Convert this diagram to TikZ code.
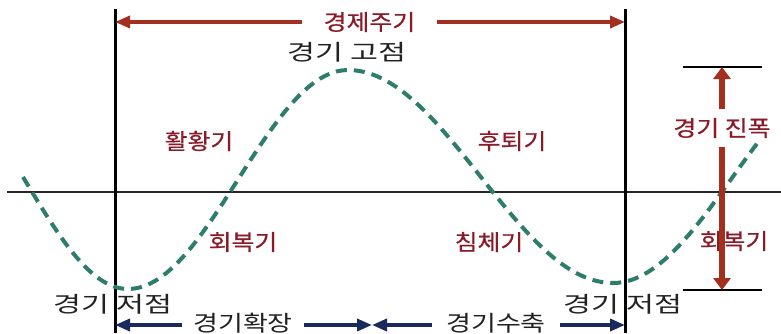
\documentclass[tikz,border=0pt]{standalone}
\usepackage{fontspec}
\setmainfont[FakeStretch=1.15]{Noto Sans CJK KR}
\newfontfamily\ptfont[FakeStretch=1.38]{Noto Sans CJK KR}
\newfontfamily\redfont[FakeStretch=1.13,FakeBold=0.6]{Noto Sans CJK KR}
\newfontfamily\btmfont[FakeStretch=1.23]{Noto Sans CJK KR}
\usetikzlibrary{arrows.meta}
\definecolor{labred}{HTML}{8A1C2A}
\definecolor{arrred}{HTML}{A3301F}
\definecolor{navy}{HTML}{1B2A5C}
\definecolor{teal2}{HTML}{2E7D6C}
\definecolor{txt}{HTML}{222222}
\begin{document}
\begin{tikzpicture}[x=1pt,y=-1pt,
  lbl/.style={font=\ptfont\fontsize{22}{22}\selectfont, inner sep=0pt, text=txt},
  blbl/.style={font=\btmfont\fontsize{22}{22}\selectfont, inner sep=0pt, text=txt},
  rlbl/.style={font=\redfont\fontsize{22}{22}\selectfont, inner sep=0pt, text=labred},
  redarr/.style={draw=arrred, line width=3.5pt, -{Triangle[length=15pt,width=12pt]}},
  navyarr/.style={draw=navy, line width=3.5pt, -{Triangle[length=15pt,width=12pt]}},
  amparr/.style={draw=arrred, line width=6pt, -{Triangle[length=12pt,width=17pt]}},
  vline/.style={draw=black, line width=3pt},
  axisline/.style={draw=black!85, line width=1.5pt},
  barline/.style={draw=black, line width=2pt},
  curve/.style={draw=teal2, line width=4pt, dash pattern=on 11pt off 7pt}]
\useasboundingbox (0,0) rectangle (781,333);
% axis
\coordinate (axL) at (7,192);
\coordinate (axR) at (781,192);
\draw[axisline] (axL) -- (axR);
% vertical lines
\coordinate (Ltop) at (115,9);
\coordinate (Lbot) at (115,333);
\coordinate (Rtop) at (625,9);
\coordinate (Rbot) at (625,333);
\draw[vline] (Ltop) -- (Lbot);
\draw[vline] (Rtop) -- (Rbot);
% curve
\draw[curve] plot[domain=23:128, samples=30] (\x, {179.5+109.5*cos((\x-128)/207*180)})
 -- plot[domain=128:348, samples=40] (\x, {179.5+109.5*cos((\x-128)/220*180)})
 -- plot[domain=348:613, samples=50] (\x, {176.5-106.5*cos((\x-348)/265*180)})
 -- plot[domain=613:760, samples=30] (\x, {176.5+106.5*cos((\x-613)/240*180)});
% labels
\node[lbl] (peak) at (347,52) {경기 고점};
\node[lbl] (lowL) at (113,304) {경기 저점};
\node[lbl] (lowR) at (623,304) {경기 저점};
\node[rlbl] (boom) at (199,141) {활황기};
\node[rlbl] (rec) at (512,141) {후퇴기};
\node[rlbl] (recovL) at (243,242) {회복기};
\node[rlbl] (depr) at (489,242) {침체기};
\node[rlbl] (recovR) at (734,241) {회복기};
% cycle arrow
\node[rlbl, minimum width=135pt] (cyc) at (369.5,22) {경제주기};
\coordinate (cycL) at (115,22);
\coordinate (cycR) at (625,22);
\draw[redarr] (cyc.west) -- (cycL);
\draw[redarr] (cyc.east) -- (cycR);
% amplitude
\coordinate (barTL) at (683,67);
\coordinate (barTR) at (762,67);
\coordinate (barBL) at (683,290);
\coordinate (barBR) at (762,290);
\draw[barline] (barTL) -- (barTR);
\draw[barline] (barBL) -- (barBR);
\coordinate (ampTop) at (722,67);
\coordinate (ampBot) at (722,290);
\node[rlbl, minimum height=37pt] (amp) at (722,128) {경기 진폭};
\draw[amparr] (amp.north) -- (ampTop);
\draw[amparr] (amp.south) -- (ampBot);
% expansion / contraction
\coordinate (mid) at (372,325);
\coordinate (expL) at (115,325);
\coordinate (conR) at (625,325);
\node[blbl, minimum width=122pt, minimum height=14pt] (exp) at (243,323) {경기확장};
\node[blbl, minimum width=127pt, minimum height=14pt] (con) at (496,323) {경기수축};
\draw[navyarr] (exp.west |- expL) -- (expL);
\draw[navyarr] (exp.east |- mid) -- (mid);
\draw[navyarr] (con.west |- mid) -- (mid);
\draw[navyarr] (con.east |- conR) -- (conR);
\end{tikzpicture}
\end{document}
